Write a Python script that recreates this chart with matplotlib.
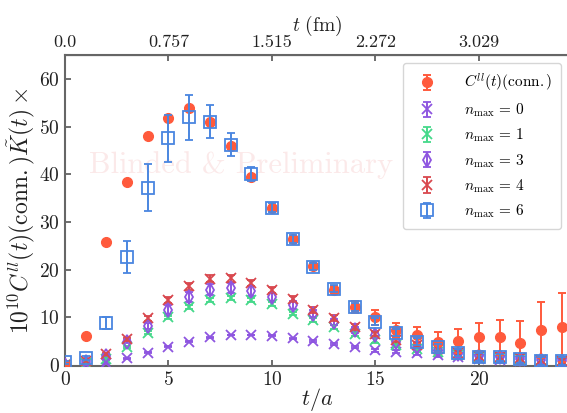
import numpy as np
import matplotlib
matplotlib.use("Agg")
import matplotlib.pyplot as plt

plt.rcParams['mathtext.fontset'] = 'cm'
plt.rcParams['font.family'] = 'serif'
plt.rcParams['font.serif'] = ['cmr10', 'DejaVu Serif']
plt.rcParams['axes.formatter.use_mathtext'] = True

t = np.arange(0, 25)

conn = [0.0, 6.1, 25.9, 38.3, 48.0, 51.8, 53.9, 51.0, 46.0, 39.5, 33.0, 26.4, 20.7, 15.8,
        12.2, 10.0, 7.3, 6.2, 4.8, 5.1, 5.9, 5.8, 4.7, 7.3, 7.9]
conn_err = [0.05, 0.1, 0.2, 0.3, 0.3, 0.3, 0.3, 0.3, 0.3, 0.3, 0.3, 0.4, 0.5, 0.7,
            1.2, 1.5, 1.6, 1.8, 2.1, 2.5, 3.0, 3.6, 4.6, 5.9, 7.2]

n0 = [0.0, 0.2, 0.4, 1.4, 2.6, 3.8, 4.9, 5.8, 6.3, 6.3, 6.1, 5.6, 5.0, 4.5, 3.7, 3.1,
      2.8, 2.5, 2.1, 1.6, 1.2, 1.0, 0.8, 0.6, 0.5]
n0_err = [0.05, 0.1, 0.1, 0.1, 0.1, 0.1, 0.1, 0.1, 0.1, 0.1, 0.1, 0.1, 0.2, 0.2, 0.2,
          0.3, 0.3, 0.3, 0.4, 0.4, 0.5, 0.5, 0.6, 0.6, 0.7]

n1 = [0.0, 0.5, 1.2, 3.8, 6.8, 10.0, 12.2, 13.7, 14.1, 13.7, 12.8, 10.8, 9.4, 8.0, 6.6,
      5.2, 4.2, 3.4, 2.8, 2.2, 1.7, 1.5, 1.2, 1.0, 0.8]
n1_err = [0.05, 0.1, 0.2, 0.2, 0.3, 0.3, 0.4, 0.4, 0.4, 0.4, 0.4, 0.4, 0.4, 0.4, 0.5,
          0.5, 0.5, 0.6, 0.6, 0.6, 0.7, 0.7, 0.7, 0.8, 0.8]

n3 = [0.0, 0.7, 1.9, 4.9, 8.2, 11.6, 14.3, 15.8, 16.2, 15.5, 14.3, 12.6, 10.8, 9.1, 7.3,
      6.3, 4.9, 3.8, 3.1, 2.4, 1.9, 1.6, 1.3, 1.0, 0.9]
n3_err = [0.05, 0.1, 0.2, 0.3, 0.6, 0.9, 1.1, 1.2, 1.1, 1.0, 0.9, 0.8, 0.7, 0.6, 0.6,
          0.6, 0.6, 0.6, 0.6, 0.7, 0.7, 0.7, 0.8, 0.8, 0.8]

n4 = [0.0, 0.9, 2.3, 5.4, 9.8, 13.7, 16.5, 18.1, 18.2, 17.2, 15.8, 13.8, 11.6, 9.8, 8.0,
      6.6, 5.2, 4.2, 3.4, 2.6, 2.0, 1.7, 1.4, 1.1, 0.9]
n4_err = [0.05, 0.1, 0.2, 0.3, 0.5, 0.6, 0.7, 0.7, 0.7, 0.6, 0.6, 0.6, 0.6, 0.6, 0.6,
          0.6, 0.6, 0.7, 0.7, 0.7, 0.7, 0.8, 0.8, 0.8, 0.8]

n6 = [0.6, 1.5, 8.8, 22.6, 37.2, 47.5, 51.9, 51.0, 46.2, 40.0, 33.0, 26.4, 20.6, 16.0,
      12.2, 9.1, 6.8, 4.9, 3.7, 2.6, 1.7, 1.6, 1.2, 0.9, 0.8]
n6_err = [0.3, 0.5, 1.2, 3.4, 5.0, 5.0, 4.7, 3.5, 2.4, 1.5, 1.0, 0.8, 0.7, 0.7, 0.8,
          0.8, 0.8, 0.8, 0.8, 0.8, 0.8, 0.8, 0.8, 0.8, 0.8]

top_ticks = [0, 5, 10, 15, 20]
top_labels = ['0.0', '0.757', '1.515', '2.272', '3.029']

fig = plt.figure(figsize=(5.67, 4.13), dpi=100)
ax = fig.add_axes([65/567, 47/413, (569-65)/567, (366-55)/413])

c_conn = '#FF5A3C'
c_n0 = '#8E55E0'
c_n1 = '#45D98A'
c_n3 = '#8E55E0'
c_n4 = '#D9484E'
c_n6 = '#4A86E0'

kw = dict(capsize=3, elinewidth=1.4, capthick=1.4, linestyle='none')
ax.errorbar(t, conn, yerr=conn_err, fmt='o', color=c_conn, ms=7, label=r'$C^{ll}(t)(\mathrm{conn.})$', zorder=5, **kw)
ax.errorbar(t, n0, yerr=n0_err, fmt='x', color=c_n0, ms=7, mew=1.3, label=r'$n_{\mathrm{max}}\,=\,0$', zorder=4, **kw)
ax.errorbar(t, n1, yerr=n1_err, fmt='x', color=c_n1, ms=7, mew=1.3, label=r'$n_{\mathrm{max}}\,=\,1$', zorder=4, **kw)
ax.errorbar(t, n3, yerr=n3_err, fmt='d', color=c_n3, ms=7, mew=1.3, mfc='none', label=r'$n_{\mathrm{max}}\,=\,3$', zorder=4, **kw)
ax.errorbar(t, n4, yerr=n4_err, fmt='x', color=c_n4, ms=7, mew=1.3, label=r'$n_{\mathrm{max}}\,=\,4$', zorder=4, **kw)
ax.errorbar(t, n6, yerr=n6_err, fmt='s', color=c_n6, ms=8, mew=1.3, mfc='none', label=r'$n_{\mathrm{max}}\,=\,6$', zorder=6, **kw)

ax.set_xlim(0, 24.35)
ax.set_ylim(-0.2, 65)
ax.set_xticks([0, 5, 10, 15, 20])
ax.set_yticks([0, 10, 20, 30, 40, 50, 60])

for s in ax.spines.values():
    s.set_color('#666666')
    s.set_linewidth(1.5)
ax.tick_params(direction='in', length=4, width=1.2, color='#555555', labelsize=14, labelcolor='#222222', top=False, right=False)

ax.set_xlabel(r'$t/a$', fontsize=16, labelpad=-2, color='#222222')
ax.set_ylabel(r'$10^{10}C^{ll}(t)(\mathrm{conn.})\tilde{K}(t)\times$', fontsize=17, labelpad=2, color='#222222')

sec = ax.secondary_xaxis('top')
sec.set_xticks(top_ticks)
sec.set_xticklabels(top_labels)
sec.tick_params(direction='in', length=4, width=1.2, color='#555555', labelsize=13, labelcolor='#222222')
sec.set_xlabel(r'$t\ (\mathrm{fm})$', fontsize=14, labelpad=3, color='#222222')

ax.text(8.5, 42, 'Blinded & Preliminary', fontsize=22, color='#E87070', alpha=0.15,
        ha='center', va='center', zorder=1)

leg = ax.legend(loc='upper right', fontsize=11, frameon=True, fancybox=True,
                edgecolor='#cccccc', handletextpad=1.4, borderpad=0.6, labelspacing=0.5,
                borderaxespad=0.5)

fig.savefig('out.png', dpi=100)
